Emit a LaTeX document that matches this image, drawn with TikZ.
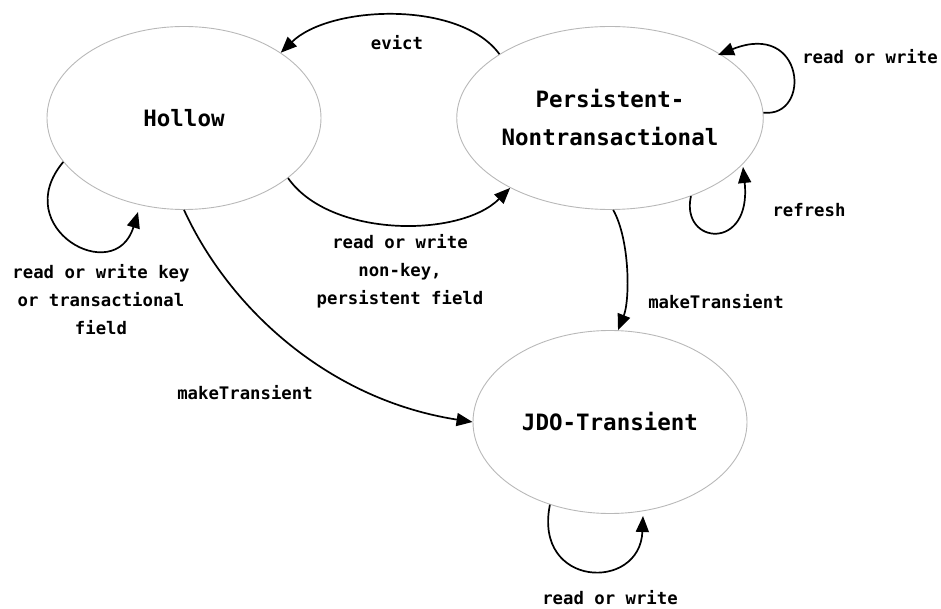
\documentclass[tikz,border=0pt]{standalone}
\usepackage{fontspec}
\setmonofont{DejaVu Sans Mono}
\usetikzlibrary{shapes.geometric,arrows.meta}
\begin{document}
\begin{tikzpicture}[x=1pt,y=-1pt,
  state/.style={ellipse,draw=black!28,line width=0.9pt,minimum width=274pt,
    minimum height=183pt,inner sep=0pt,align=center,
    font=\fontsize{22.5}{38}\selectfont\ttfamily\bfseries},
  trans/.style={line width=1.7pt,-{Triangle[length=16pt,width=13pt]}},
  lbl/.style={align=center,inner sep=0pt,
    font=\fontsize{17.3}{28}\selectfont\ttfamily\bfseries}]
\useasboundingbox (0,0) rectangle (941,609);

% states
\node[state] (H) at (184,118) {Hollow};
\node[state] (P) at (610,118) {Persistent-\\Nontransactional};
\node[state] (J) at (610,422) {JDO-Transient};

% free ends of the self-loops
\coordinate (hl) at (138,212);
\coordinate (pl) at (718,55);
\coordinate (rl) at (743,167);
\coordinate (jl) at (643,516);

% transitions
\draw[trans] (P.150) .. controls (460,0) and (330,5) .. (H.34);
\draw[trans] (H.-30) .. controls (330,238) and (460,238) .. (P.215);
\draw[trans] (H.200) .. controls (8,228) and (115,288) .. (hl);
\draw[trans] (H.-90) .. controls (230,310) and (330,400) .. (J.180);
\draw[trans] (P.-88) .. controls (630,240) and (630,300) .. (J.85);
\draw[trans] (P.2) .. controls (812,118) and (805,20) .. (pl);
\draw[trans] (P.-44) .. controls (680,245) and (752,252) .. (rl);
\draw[trans] (J.234) .. controls (533,588) and (640,592) .. (jl);

% labels
\node[lbl] (le) at (397,43) {evict};
\node[lbl] (lr) at (400,271) {read or write\\non-key,\\persistent field};
\node[lbl] (lh) at (101,300) {read or write key\\or transactional\\field};
\node[lbl] (lm1) at (245,393) {makeTransient};
\node[lbl] (lm2) at (716,302) {makeTransient};
\node[lbl] (lp) at (870,57) {read or write};
\node[lbl] (lf) at (809,210) {refresh};
\node[lbl] (lj) at (610,598) {read or write};
\end{tikzpicture}
\end{document}
